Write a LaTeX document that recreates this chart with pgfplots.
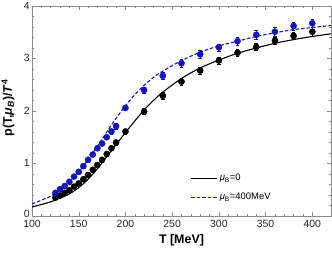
\documentclass[border=0pt]{standalone}
\usepackage{pgfplots}
\pgfplotsset{compat=1.18}
\usepackage{fontspec}
\setmainfont{Liberation Sans}
\definecolor{myblue}{rgb}{0.08,0.08,0.75}
\pgfplotstableread{
T p e
125 0.35 0.03
130 0.39 0.03
135 0.44 0.03
140 0.49 0.03
145 0.56 0.03
150 0.62 0.03
155 0.70 0.03
160 0.78 0.04
165 0.88 0.04
170 0.97 0.04
175 1.07 0.04
180 1.18 0.04
185 1.29 0.04
190 1.40 0.05
200 1.61 0.05
220 1.99 0.06
240 2.29 0.06
260 2.56 0.06
280 2.77 0.06
300 2.96 0.07
320 3.11 0.07
340 3.22 0.07
360 3.34 0.07
380 3.43 0.07
400 3.51 0.08
}\blackpts
\pgfplotstableread{
T p e
125 0.44 0.03
130 0.51 0.03
135 0.57 0.03
140 0.65 0.03
145 0.75 0.03
150 0.84 0.03
155 0.95 0.04
160 1.07 0.04
165 1.17 0.04
170 1.29 0.04
175 1.38 0.04
180 1.50 0.04
185 1.61 0.05
190 1.71 0.05
200 2.06 0.05
220 2.40 0.06
240 2.67 0.06
260 2.91 0.07
280 3.08 0.07
300 3.21 0.07
320 3.33 0.08
340 3.45 0.08
360 3.51 0.08
380 3.62 0.08
400 3.67 0.08
}\bluepts
\begin{document}
\begin{tikzpicture}
\begin{axis}[
 scale only axis, width=299bp, height=210bp,
 xmin=100, xmax=420, ymin=0, ymax=4,
 xtick={100,150,...,400}, minor x tick num=4,
 ytick={0,1,2,3,4}, yticklabels={\raisebox{3.5bp}{0},1,2,3,4}, minor y tick num=4,
 tick align=inside, major tick length=4bp, minor tick length=2bp,
 axis line style={black!45}, every tick/.style={black!45},
 ticklabel style={font=\fontsize{10.5}{10.5}\selectfont, text=black!85, inner sep=1bp},
 xticklabel style={yshift=-2.5bp},
 yticklabel style={xshift=-1bp, yshift=0.5bp},
 /pgf/number format/assume math mode=true,
 xlabel={\textbf{T [MeV]}},
 ylabel={\textbf{p(T,\textit{μ}\textsubscript{\textit{B}})/\textit{T}\textsuperscript{4}}},
 label style={font=\fontsize{12.5}{13}\selectfont},
 xlabel style={at={(axis description cs:0.5,-0.115)}, anchor=center},
 ylabel style={at={(axis description cs:-0.08,0.515)}, anchor=center, rotate=0},
 legend style={draw=none, fill=none, at={(0.52,0.05)}, anchor=south west,
   font=\fontsize{9.5}{11}\selectfont, row sep=7bp},
 legend cell align=left,
 legend image code/.code={\draw[#1] (0bp,0bp) -- (26bp,0bp);},
]
\addplot[black, line width=1.1pt, smooth] coordinates {
(100,0.17)(110,0.22)(120,0.27)(130,0.34)(140,0.42)(150,0.54)(160,0.70)(170,0.90)
(180,1.13)(190,1.36)(200,1.59)(210,1.81)(220,2.02)(230,2.20)(240,2.36)(260,2.62)
(280,2.82)(300,2.97)(320,3.10)(340,3.20)(360,3.29)(380,3.36)(400,3.42)(420,3.47)};
\addlegendentry{\textit{μ}\textsubscript{B}=0}
\addplot[myblue, line width=1.1pt, dash pattern=on 3.5bp off 2bp, smooth] coordinates {
(100,0.23)(110,0.30)(120,0.38)(130,0.50)(140,0.65)(150,0.84)(160,1.07)(170,1.33)
(180,1.60)(190,1.86)(200,2.10)(210,2.31)(220,2.49)(230,2.64)(240,2.76)(260,2.96)
(280,3.12)(300,3.24)(320,3.33)(340,3.42)(360,3.49)(380,3.55)(400,3.59)(420,3.63)};
\addlegendentry{\textit{μ}\textsubscript{B}=400MeV}
\addplot[black, only marks, mark=*, mark size=3.1bp, forget plot,
  error bars/.cd, y dir=both, y explicit, error bar style={line width=0.9pt}, error mark options={rotate=90, mark size=1.8bp}]
  table[x=T, y=p, y error=e] {\blackpts};
\addplot[myblue, only marks, mark=*, mark size=3.1bp, forget plot,
  error bars/.cd, y dir=both, y explicit, error bar style={line width=0.9pt}, error mark options={rotate=90, mark size=1.8bp}]
  table[x=T, y=p, y error=e] {\bluepts};
\end{axis}
\pgfresetboundingbox
\path ([shift={(-32bp,-38bp)}]current axis.south west) rectangle ([shift={(1bp,6bp)}]current axis.north east);
\end{tikzpicture}
\end{document}
